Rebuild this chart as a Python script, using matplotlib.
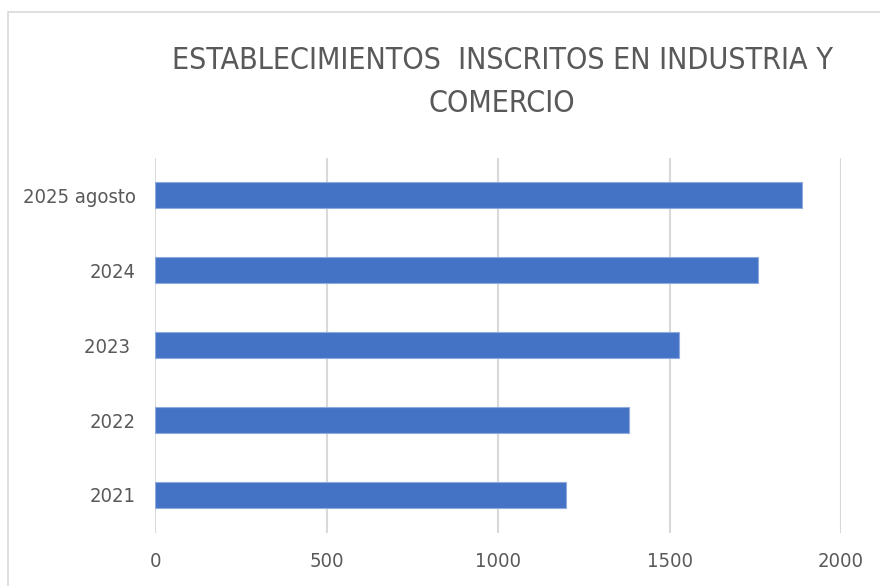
import matplotlib.pyplot as plt
from matplotlib.patches import Rectangle

categorias = ['2021', '2022', '2023 ', '2024', '2025 agosto']
valores = [1197, 1383, 1529, 1759, 1885]
xticks = [0, 500, 1000, 1500, 2000]
titulo = 'ESTABLECIMIENTOS  INSCRITOS EN INDUSTRIA Y\nCOMERCIO'

plt.rcParams['font.family'] = ['DejaVu Sans']
plt.rcParams['font.stretch'] = 'condensed'
gris = '#595959'

fig = plt.figure(figsize=(8.8, 5.86), dpi=100)
fig.patches.append(Rectangle((8/880, -0.1), 1.2, 1 - 12/586 + 0.1,
                             transform=fig.transFigure, fill=False,
                             edgecolor='#D9D9D9', linewidth=1.2))

ax = fig.add_axes([155/880, 1 - 532.5/586, 686/880, 375/586])
ax.barh(range(len(categorias)), valores, height=0.35, color='#4472C4',
        edgecolor='#8FAADC', linewidth=0.8, zorder=3)

ax.set_xlim(0, 2000)
ax.set_ylim(-0.5, len(categorias) - 0.5)
ax.set_xticks(xticks)
ax.set_xticklabels([str(t) for t in xticks])
ax.set_yticks(range(len(categorias)))
ax.set_yticklabels(categorias)
ax.tick_params(length=0, labelsize=14.5, labelcolor=gris)
ax.tick_params(axis='x', pad=14)
ax.tick_params(axis='y', pad=14)
ax.grid(axis='x', color='#D9D9D9', linewidth=1.5, zorder=0)
for s in ax.spines.values():
    s.set_visible(False)

fig.text(502/880, 1 - 82/586, titulo, ha='center', va='center',
         fontsize=21.8, color=gris, linespacing=1.65)

fig.savefig('out.png', dpi=100)
